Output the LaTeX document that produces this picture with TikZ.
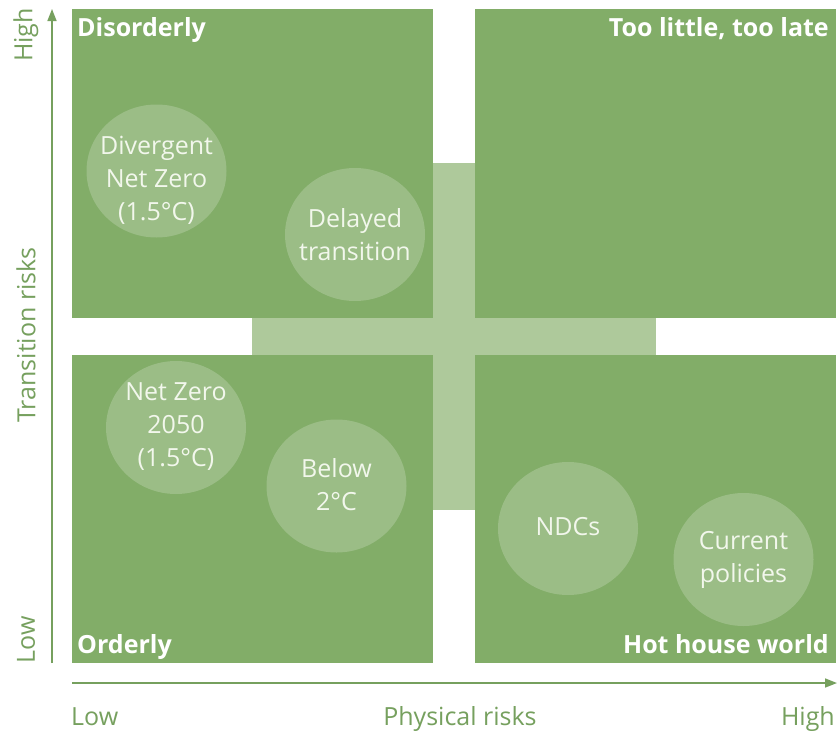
\documentclass[tikz,border=0pt]{standalone}
\usepackage{fontspec}
\setmainfont{Open Sans}
\usetikzlibrary{arrows.meta,shapes.geometric}
\definecolor{quadgreen}{HTML}{82AD68}
\definecolor{bargreen}{HTML}{AEC99B}
\definecolor{axisgreen}{HTML}{76A05E}
\definecolor{circtext}{HTML}{F2F7EC}
\begin{document}
\begin{tikzpicture}[x=1pt,y=-1pt,
  quadbox/.style={fill=quadgreen, draw=none, inner sep=0pt},
  barbox/.style={fill=bargreen, draw=none, inner sep=0pt},
  scen/.style={ellipse, fill=white, fill opacity=0.2, draw=none,
    minimum width=140pt, minimum height=133pt, inner sep=0pt},
  scentext/.style={text=circtext, align=center, inner sep=0pt, font=\fontsize{25}{33}\selectfont},
  qtitle/.style={text=white, font=\fontsize{25}{29}\selectfont\bfseries, inner sep=0pt},
  axlabel/.style={text=axisgreen, font=\fontsize{25}{29}\selectfont, inner sep=0pt},
  axisarrow/.style={draw=axisgreen, line width=1.6pt, -{Triangle[length=12pt,width=9pt]}}
]
\useasboundingbox (0,0) rectangle (838,731);
\fill[white] (0,0) rectangle (838,731);
% cross bars
\node[barbox, minimum width=42pt, minimum height=347pt] (vbar) at (454,336.5) {};
\node[barbox, minimum width=404pt, minimum height=37pt] (hbar) at (454,336.5) {};
% quadrants
\node[quadbox, minimum width=361pt, minimum height=309pt] (tl) at (252.5,163.5) {};
\node[quadbox, minimum width=361pt, minimum height=309pt] (tr) at (655.5,163.5) {};
\node[quadbox, minimum width=361pt, minimum height=308pt] (bl) at (252.5,509) {};
\node[quadbox, minimum width=361pt, minimum height=308pt] (br) at (655.5,509) {};
% quadrant titles
\node[qtitle, anchor=base west] (tDis) at (77,36) {Disorderly};
\node[qtitle, anchor=base east] (tToo) at (829,36) {Too little, too late};
\node[qtitle, anchor=base west] (tOrd) at (77,653) {Orderly};
\node[qtitle, anchor=base east] (tHot) at (829,653) {Hot house world};
% scenarios
\node[scen] (div) at (156.5,171) {};
\node[scentext] (divt) at (156.5,180) {Divergent\\Net Zero\\(1.5°C)};
\node[scen] (del) at (355,234.5) {};
\node[scentext] (delt) at (355,235) {Delayed\\transition};
\node[scen] (nz) at (176,427.5) {};
\node[scentext] (nzt) at (176,427) {Net Zero\\2050\\(1.5°C)};
\node[scen] (b2) at (336.5,486) {};
\node[scentext] (b2t) at (336.5,485) {Below\\2°C};
\node[scen] (ndc) at (568,528.5) {};
\node[scentext] (ndct) at (568,527) {NDCs};
\node[scen] (cur) at (743.5,559.5) {};
\node[scentext] (curt) at (743.5,560) {Current\\policies};
% axes
\coordinate (yfrom) at (52,663);
\coordinate (yto) at (52,9);
\coordinate (xfrom) at (72,683);
\coordinate (xto) at (837,683);
\draw[axisarrow] (yfrom) -- (yto);
\draw[axisarrow] (xfrom) -- (xto);
% axis labels
\node[axlabel, rotate=90] (yHigh) at (26,35) {High};
\node[axlabel, rotate=90] (yLow) at (26,640) {Low};
\node[axlabel, rotate=90] (yName) at (26,335) {Transition risks};
\node[axlabel, anchor=base west] (xLow) at (71,725) {Low};
\node[axlabel, anchor=base] (xName) at (460,725) {Physical risks};
\node[axlabel, anchor=base east] (xHigh) at (835,725) {High};
\end{tikzpicture}
\end{document}
